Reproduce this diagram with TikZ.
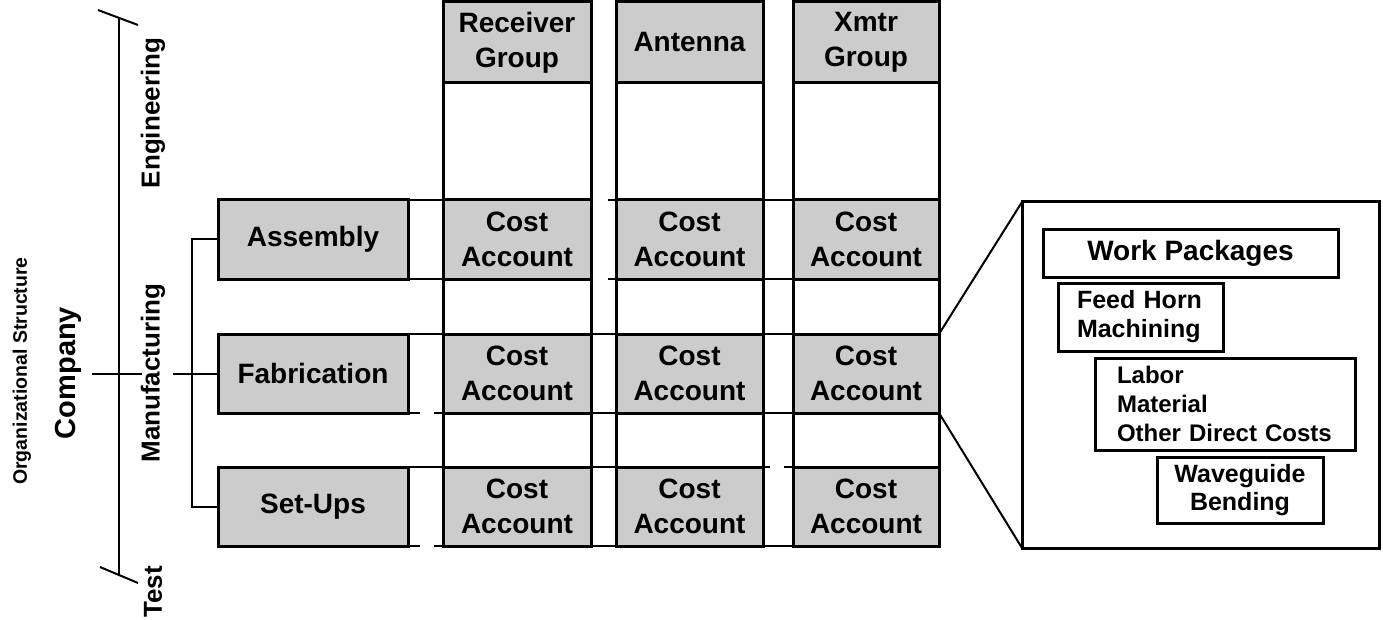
\documentclass[tikz,border=0pt]{standalone}
\usepackage{fontspec}
\setmainfont{Liberation Sans}
\usetikzlibrary{backgrounds,calc}
\definecolor{cellgray}{RGB}{204,204,204}

\begin{document}
\begin{tikzpicture}[x=1pt,y=-1pt,
  box/.style={draw, line width=3pt, fill=cellgray, outer sep=0pt, inner sep=0pt,
    anchor=north west, align=center, font=\fontsize{28}{35}\selectfont\bfseries},
  wpbox/.style={draw, line width=3pt, fill=white, outer sep=0pt, inner sep=0pt,
    anchor=north west, align=center},
  frame/.style={draw, line width=3pt},
  rowline/.style={line width=1.6pt},
  tree/.style={line width=2pt},
  link/.style={line width=2pt},
  lbl/.style={rotate=90, font=\fontsize{26}{28}\selectfont\bfseries}
]
\useasboundingbox (0,0) rectangle (1383,620);

% column headers
\node[box, minimum width=148pt, minimum height=81pt] (hdrR) at (443,2) {Receiver\\Group};
\node[box, minimum width=147pt, minimum height=81pt] (hdrA) at (616,2) {Antenna};
\node[box, minimum width=146pt, minimum height=81pt] (hdrX) at (793,2) {Xmtr\\Group};

% cost account cells
\foreach \c/\x/\w in {R/443/148, A/616/147, X/793/146}
  \foreach \r/\y in {1/200, 2/334, 3/467}
    \node[box, minimum width=\w pt, minimum height=79pt] (ca\c\r) at (\x,\y) {Cost\\Account};

% manufacturing departments
\node[box, minimum width=190pt, minimum height=79pt] (asm) at (218,200) {Assembly};
\node[box, minimum width=190pt, minimum height=79pt] (fab) at (218,334) {Fabrication};
\node[box, minimum width=190pt, minimum height=79pt] (setup) at (218,467) {Set-Ups};

% column frames
\draw[frame] (hdrR.north west) rectangle (caR3.south east);
\draw[frame] (hdrA.north west) rectangle (caA3.south east);
\draw[frame] (hdrX.north west) rectangle (caX3.south east);

% page background and row lines behind the cells
\begin{scope}[on background layer]
\fill[white] (0,0) rectangle (1383,620);
\draw[rowline] (asm.north east) -- ([xshift=2pt]caR1.north east)
  ([xshift=17pt]caR1.north east) -- (caX1.north east);
\draw[rowline] (asm.south east) -- ([xshift=2pt]caR1.south east)
  ([xshift=17pt]caR1.south east) -- (caX1.south east);
\draw[rowline] (fab.north east) -- (caX2.north east);
\draw[rowline] (fab.south east) -- ([xshift=12pt]fab.south east)
  ([xshift=26pt]fab.south east) -- (caX2.south east);
\draw[rowline] (setup.north east) -- ([xshift=7pt]caA3.north east)
  ([xshift=21pt]caA3.north east) -- (caX3.north east);
\draw[rowline] (setup.south east) -- ([xshift=12pt]setup.south east)
  ([xshift=26pt]setup.south east) -- (caX3.south east);
\end{scope}

% organizational tree
\coordinate (topend) at (119,18);
\coordinate (botend) at (119,575);
\coordinate (tt1) at (98,10);
\coordinate (tt2) at (138,25);
\coordinate (bt1) at (100,567);
\coordinate (bt2) at (138,583);
\coordinate (cl) at (92,374);
\coordinate (cr) at (142,374);
\coordinate (mt) at (173,374);
\coordinate (bx) at (192,374);
\draw[tree] (topend) -- (botend);
\draw[tree] (tt1) -- (tt2);
\draw[tree] (bt1) -- (bt2);
\draw[tree] (cl |- fab.west) -- (cr |- fab.west);
\draw[tree] (fab.west -| mt) -- (fab.west);
\draw[tree] (asm.west) -- (asm.west -| bx) -- (setup.west -| bx) -- (setup.west);

\node[rotate=90, font=\fontsize{19.5}{20}\selectfont\bfseries] (org) at (22,371) {Organizational Structure};
\node[rotate=90, font=\fontsize{29}{30}\selectfont\bfseries] (comp) at (68,373) {Company};
\node[lbl] (eng) at (153,113) {Engineering};
\node[lbl] (mfg) at (153,373) {Manufacturing};
\node[lbl] (test) at (153,592) {Test};

% work package detail
\node[wpbox, minimum width=357pt, minimum height=346pt] (detail) at (1022,202) {};
\draw[link] (caX2.north east) -- (detail.north west);
\draw[link] (caX2.south east) -- (detail.south west);
\node[wpbox, minimum width=295pt, minimum height=47pt,
  font=\fontsize{28}{32}\selectfont\bfseries] (wp) at (1043,230) {Work Packages};
\node[wpbox, minimum height=68pt, text width=127pt, inner xsep=19pt, align=left,
  font=\fontsize{25}{29}\selectfont\bfseries] (fh) at (1058,283) {Feed Horn\\Machining};
\node[wpbox, minimum height=92pt, text width=216pt, inner xsep=22pt, align=left,
  font=\fontsize{24}{29}\selectfont\bfseries] (lab) at (1095,358)
  {Labor\\Material\\\mbox{Other Direct Costs}};
\node[wpbox, minimum width=166pt, minimum height=66pt,
  font=\fontsize{25}{28}\selectfont\bfseries] (wg) at (1157,457) {Waveguide\\Bending};
\end{tikzpicture}
\end{document}
